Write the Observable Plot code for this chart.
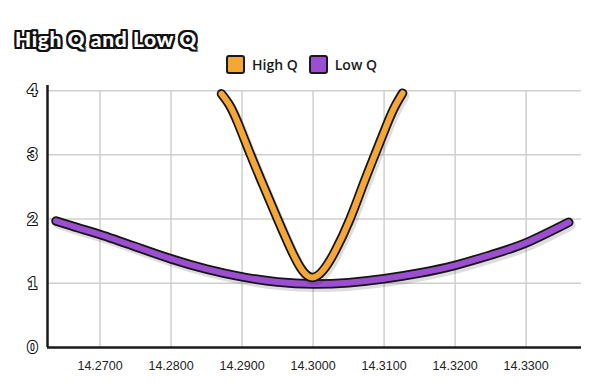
<!DOCTYPE html>
<html>
<head>
<meta charset="utf-8">
<script src="https://cdn.jsdelivr.net/npm/d3@7"></script>
<script src="https://cdn.jsdelivr.net/npm/@observablehq/plot@0.6"></script>
<style>
  html, body { margin: 0; padding: 0; background: #fff; }
  #wrap { width: 600px; height: 387px; position: relative; overflow: hidden; }
  #header { height: 80px; position: relative; }
  #title {
    position: absolute; left: 15px; top: 26px;
    font-family: Lato, "DejaVu Sans", sans-serif; font-weight: 900; font-size: 21px;
    color: #fff; letter-spacing: 0.6px;
    text-shadow: -2px -2px 0 #111, 2px -2px 0 #111, -2px 2px 0 #111, 2px 2px 0 #111,
                 0 -2px 0 #111, 0 2px 0 #111, -2px 0 0 #111, 2px 0 0 #111;
  }
  #legend { position: absolute; left: 226px; top: 55px; display: flex; align-items: center;
    font-family: "Open Sans", "Liberation Sans", sans-serif; font-size: 14px; font-weight: 600; color: #1a1a1a; }
  .sw { width: 15px; height: 15px; border: 2px solid #1a1a1a; border-radius: 3px; margin-right: 7px; }
  .item { display: flex; align-items: center; margin-right: 11px; }
</style>
</head>
<body>
<div id="wrap">
  <div id="header">
    <div id="title">High Q and Low Q</div>
    <div id="legend"></div>
  </div>
  <div id="chart"></div>
</div>
<script>
const seriesNames = ["High Q", "Low Q"];
const seriesColors = ["#f4a637", "#9b4fd0"];
const xTicks = [14.27, 14.28, 14.29, 14.30, 14.31, 14.32, 14.33];
const yTicks = [0, 1, 2, 3, 4];

const lowQx = [14.2638, 14.2670, 14.2700, 14.2750, 14.2800, 14.2850, 14.2900, 14.2950, 14.3000, 14.3050, 14.3100, 14.3150, 14.3200, 14.3250, 14.3300, 14.3360];
const lowQy = [1.97, 1.86, 1.76, 1.57, 1.38, 1.22, 1.10, 1.02, 0.99, 1.01, 1.07, 1.16, 1.28, 1.44, 1.63, 1.95];

const highQx = [14.2871, 14.2882, 14.2894, 14.2912, 14.2930, 14.2950, 14.2970, 14.2985, 14.2999, 14.3014, 14.3031, 14.3052, 14.3070, 14.3087, 14.3105, 14.3116, 14.3126];
const highQy = [3.95, 3.78, 3.50, 3.00, 2.52, 2.00, 1.50, 1.20, 1.09, 1.20, 1.50, 2.00, 2.52, 3.00, 3.50, 3.77, 3.96];

const lowQ = lowQx.map((x, i) => ({x, y: lowQy[i]}));
const highQ = highQx.map((x, i) => ({x, y: highQy[i]}));

// legend
const legend = document.getElementById("legend");
seriesNames.forEach((n, i) => {
  const it = document.createElement("div"); it.className = "item";
  const sw = document.createElement("div"); sw.className = "sw"; sw.style.background = seriesColors[i];
  const tx = document.createElement("span"); tx.textContent = n;
  it.appendChild(sw); it.appendChild(tx); legend.appendChild(it);
});

const xDomain = [14.2626, 14.3378];
const curve = "natural";
function seriesMarks(data, color) {
  return [
    Plot.line(data, {x: "x", y: "y", curve, stroke: "#000", strokeOpacity: 0.13, strokeWidth: 10, dx: 2, dy: 3, strokeLinecap: "round"}),
    Plot.line(data, {x: "x", y: "y", curve, stroke: "#151515", strokeWidth: 9.5, strokeLinecap: "round", strokeLinejoin: "round"}),
    Plot.line(data, {x: "x", y: "y", curve, stroke: color, strokeWidth: 6, strokeLinecap: "round", strokeLinejoin: "round"})
  ];
}

const chart = Plot.plot({
  width: 600,
  height: 307,
  marginLeft: 47,
  marginRight: 19,
  marginTop: 5,
  marginBottom: 40,
  x: {domain: xDomain, axis: null},
  y: {domain: [0, 4.08], axis: null},
  style: {background: "transparent", overflow: "visible"},
  marks: [
    Plot.ruleY(yTicks.filter(d => d > 0), {stroke: "#cfcfcf", strokeWidth: 1.5}),
    Plot.ruleX(xTicks, {y1: 0, y2: 4, stroke: "#cfcfcf", strokeWidth: 1.5}),
    ...seriesMarks(lowQ, seriesColors[1]),
    ...seriesMarks(highQ, seriesColors[0]),
    Plot.ruleX([xDomain[0]], {y1: 0, y2: 4.08, stroke: "#1a1a1a", strokeWidth: 2.5}),
    Plot.ruleY([0], {stroke: "#1a1a1a", strokeWidth: 2.5}),
    Plot.text(yTicks, {x: xDomain[0], y: d => d, text: d => String(d), dx: -15, textAnchor: "middle",
      fill: "#fff", stroke: "#111", strokeWidth: 2.2, paintOrder: "stroke",
      fontSize: 17, fontWeight: 900, fontFamily: "Lato, DejaVu Sans, sans-serif"}),
    Plot.axisX(xTicks, {label: null, tickSize: 0, tickPadding: 14, tickFormat: d => d.toFixed(4), fontSize: 12.5,
      fontFamily: "Liberation Sans, Arial, sans-serif", fill: "#222"})
  ]
});
document.getElementById("chart").appendChild(chart);
</script>
</body>
</html>
